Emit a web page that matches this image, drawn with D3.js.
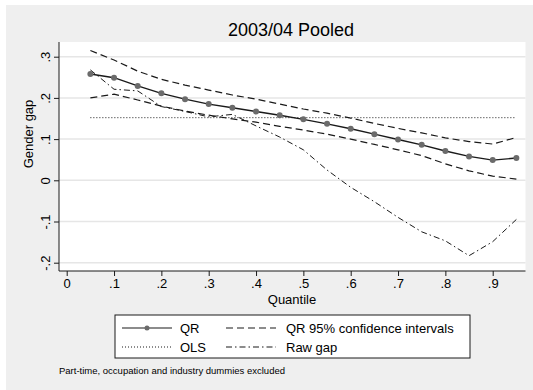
<!DOCTYPE html>
<html lang="en">
<head>
    <meta charset="UTF-8" />
    <title>2003/04 Pooled - Gender gap by quantile</title>
    <script src="https://d3js.org/d3.v7.min.js"></script>
    <style>
        body { margin: 0; background: #ffffff; }
        text { font-family: Arial, "Liberation Sans", sans-serif; fill: #000; }
    </style>
</head>

<body>
    <script>
        var w = 533;
        var h = 390;

        // Data
        var quantiles = [0.05, 0.10, 0.15, 0.20, 0.25, 0.30, 0.35, 0.40, 0.45, 0.50,
                         0.55, 0.60, 0.65, 0.70, 0.75, 0.80, 0.85, 0.90, 0.95];
        var qr = [0.258, 0.249, 0.229, 0.211, 0.197, 0.185, 0.176, 0.167, 0.158, 0.148,
                  0.137, 0.125, 0.112, 0.099, 0.086, 0.071, 0.058, 0.049, 0.054];
        var ciUpper = [0.315, 0.292, 0.265, 0.245, 0.231, 0.219, 0.207, 0.197, 0.185, 0.173,
                       0.163, 0.151, 0.138, 0.126, 0.115, 0.103, 0.094, 0.088, 0.104];
        var ciLower = [0.200, 0.209, 0.195, 0.180, 0.168, 0.158, 0.149, 0.141, 0.131, 0.122,
                       0.112, 0.100, 0.087, 0.074, 0.060, 0.040, 0.023, 0.010, 0.003];
        var rawGap = [0.268, 0.221, 0.217, 0.179, 0.167, 0.154, 0.160, 0.132, 0.105, 0.074,
                      0.025, -0.017, -0.052, -0.090, -0.125, -0.147, -0.183, -0.149, -0.095];
        var ols = 0.152;

        var xTicks = [0, 0.1, 0.2, 0.3, 0.4, 0.5, 0.6, 0.7, 0.8, 0.9];
        var xTickLabels = ["0", ".1", ".2", ".3", ".4", ".5", ".6", ".7", ".8", ".9"];
        var yTicks = [-0.2, -0.1, 0, 0.1, 0.2, 0.3];
        var yTickLabels = ["-.2", "-.1", "0", ".1", ".2", ".3"];

        // Plot region
        var plot = { left: 59, right: 525.5, top: 42, bottom: 271 };

        var svg = d3.select("body")
            .append("svg")
            .attr("width", w)
            .attr("height", h)
            .style("display", "block");

        // Outer background (Stata graph region)
        svg.append("rect")
            .attr("x", 6).attr("y", 5)
            .attr("width", w - 6).attr("height", h - 5)
            .attr("fill", "#efefef");

        svg.append("rect")
            .attr("x", plot.left).attr("y", plot.top)
            .attr("width", plot.right - plot.left)
            .attr("height", plot.bottom - plot.top)
            .attr("fill", "#ffffff");

        // Scales
        var xScale = d3.scaleLinear()
            .domain([0, 0.9])
            .range([66.7, 492.7]);

        var yScale = d3.scaleLinear()
            .domain([-0.2, 0.3])
            .range([262.7, 56.7]);

        // Gridlines
        svg.selectAll(".grid")
            .data(yTicks)
            .enter()
            .append("line")
            .attr("class", "grid")
            .attr("x1", plot.left)
            .attr("x2", plot.right)
            .attr("y1", function(d) { return yScale(d); })
            .attr("y2", function(d) { return yScale(d); })
            .attr("stroke", "#e6e6e6")
            .attr("stroke-width", 1.5);

        // Y axis
        var yAxis = d3.axisLeft(yScale)
            .tickValues(yTicks)
            .tickSize(5)
            .tickFormat(function(d, i) { return yTickLabels[i]; });

        var gy = svg.append("g")
            .attr("transform", "translate(" + plot.left + ",0)")
            .call(yAxis);
        gy.select(".domain").attr("d", "M0," + plot.top + "V" + plot.bottom);
        // tick text sits inside a translated tick group, so rotate about its own anchor
        gy.selectAll("text")
            .attr("font-size", 13)
            .attr("x", -9)
            .attr("y", 0)
            .attr("dy", 0)
            .attr("transform", "rotate(-90,-9,0)")
            .attr("text-anchor", "middle");

        // X axis
        var xAxis = d3.axisBottom(xScale)
            .tickValues(xTicks)
            .tickSize(5)
            .tickFormat(function(d, i) { return xTickLabels[i]; });

        var gx = svg.append("g")
            .attr("transform", "translate(0," + plot.bottom + ")")
            .call(xAxis);
        gx.select(".domain").attr("d", "M" + plot.left + ",0H" + plot.right);
        gx.selectAll("text")
            .attr("font-size", 13)
            .attr("y", 8);

        svg.selectAll(".domain, .tick line").attr("stroke", "#1a1a1a");

        // Axis titles and title
        svg.append("text")
            .attr("x", 292)
            .attr("y", 304)
            .attr("text-anchor", "middle")
            .attr("font-size", 13)
            .text("Quantile");

        svg.append("text")
            .attr("transform", "translate(33,134) rotate(-90)")
            .attr("text-anchor", "middle")
            .attr("font-size", 13)
            .text("Gender gap");

        svg.append("text")
            .attr("x", 291)
            .attr("y", 36)
            .attr("text-anchor", "middle")
            .attr("font-size", 18)
            .text("2003/04 Pooled");

        // Lines
        function lineFor(values) {
            return d3.line()
                .x(function(d, i) { return xScale(quantiles[i]); })
                .y(function(d) { return yScale(d); })(values);
        }

        var series = [
            { values: ciUpper, dash: "7,4", width: 1.2 },
            { values: ciLower, dash: "7,4", width: 1.2 },
            { values: rawGap, dash: "6,3,1.5,3", width: 1 },
            { values: quantiles.map(function() { return ols; }), dash: "1,2", width: 1 },
            { values: qr, dash: null, width: 1.4 }
        ];

        svg.selectAll(".series")
            .data(series)
            .enter()
            .append("path")
            .attr("class", "series")
            .attr("d", function(d) { return lineFor(d.values); })
            .attr("fill", "none")
            .attr("stroke", "#1a1a1a")
            .attr("stroke-width", function(d) { return d.width; })
            .attr("stroke-dasharray", function(d) { return d.dash; });

        svg.selectAll(".pt")
            .data(qr)
            .enter()
            .append("circle")
            .attr("class", "pt")
            .attr("cx", function(d, i) { return xScale(quantiles[i]); })
            .attr("cy", function(d) { return yScale(d); })
            .attr("r", 3)
            .attr("fill", "#6b6b6b");

        // Legend
        var legend = svg.append("g");
        legend.append("rect")
            .attr("x", 115).attr("y", 315)
            .attr("width", 355).attr("height", 43)
            .attr("fill", "#ffffff")
            .attr("stroke", "#1a1a1a")
            .attr("stroke-width", 1);

        var legendItems = [
            { label: "QR", col: 0, row: 0, dash: null, marker: true },
            { label: "QR 95% confidence intervals", col: 1, row: 0, dash: "7,4", marker: false },
            { label: "OLS", col: 0, row: 1, dash: "1,2", marker: false },
            { label: "Raw gap", col: 1, row: 1, dash: "6,3,1.5,3", marker: false }
        ];

        var items = legend.selectAll(".item")
            .data(legendItems)
            .enter()
            .append("g")
            .attr("transform", function(d) {
                return "translate(" + (d.col === 0 ? 122 : 226) + "," + (d.row === 0 ? 328 : 347) + ")";
            });

        items.append("line")
            .attr("x1", 0).attr("x2", 50)
            .attr("y1", 0).attr("y2", 0)
            .attr("stroke", "#1a1a1a")
            .attr("stroke-width", 1.2)
            .attr("stroke-dasharray", function(d) { return d.dash; });

        items.filter(function(d) { return d.marker; })
            .append("circle")
            .attr("cx", 25).attr("cy", 0).attr("r", 2.5)
            .attr("fill", "#6b6b6b");

        items.append("text")
            .attr("x", function(d) { return d.col === 0 ? 58 : 60; })
            .attr("y", 0)
            .attr("dy", "0.36em")
            .attr("font-size", 13)
            .text(function(d) { return d.label; });

        // Note
        svg.append("text")
            .attr("x", 59)
            .attr("y", 374)
            .attr("font-size", 9.5)
            .text("Part-time, occupation and industry dummies excluded");
    </script>
</body>
</html>
